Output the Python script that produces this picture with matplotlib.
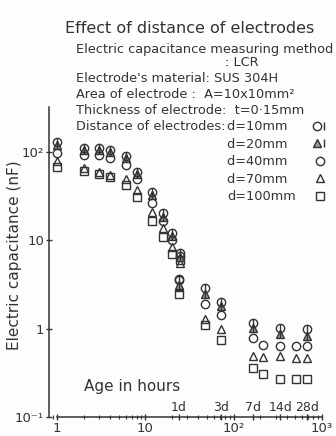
import numpy as np
import matplotlib
matplotlib.use("Agg")
import matplotlib.pyplot as plt
from matplotlib.lines import Line2D
from matplotlib.legend_handler import HandlerTuple
from matplotlib.ticker import NullLocator, LogLocator

nan = np.nan

# Age of the specimen in hours (two readings near 1 day)
hours = [1, 2, 3, 4, 6, 8, 12, 16, 20, 25, 24, 48, 72, 168, 216, 336, 504, 672]

# Electric capacitance (nF) for each electrode distance
cap_d10 = [129, 110, 110, 106, 90, 60, 35, 20.5, 12.1, 7.2, 3.7, 2.9, 2.0, 1.17, nan, 1.02, nan, 0.99]
cap_d20 = [120, 106, 105, 100, 86, 57, 33, 18.5, 11.2, 6.5, 3.1, 2.5, 1.82, 1.02, nan, 0.88, nan, 0.83]
cap_d40 = [98, 93, 93, 85, 72, 49, 26.5, 16.4, 10.1, 6.6, 3.6, 1.9, 1.43, 0.79, 0.65, 0.64, 0.64, 0.64]
cap_d70 = [79, 66, 59, 55, 50, 37, 21.2, 13.8, 8.4, 5.6, 3.0, 1.3, 1.0, 0.49, 0.48, 0.49, 0.46, 0.46]
cap_d100 = [68, 61, 56, 52, 42, 31, 16.6, 11.0, 7.0, 6.0, 2.5, 1.1, 0.74, 0.36, 0.31, 0.27, 0.27, 0.27]

day_hours = [24, 72, 168, 336, 672]
day_labels = ["1d", "3d", "7d", "14d", "28d"]

x_ticks = [1, 10, 100, 1000]
x_tick_labels = ["1", "10", "10²", "10³"]
y_ticks = [0.1, 1, 10, 100]
y_tick_labels = ["10⁻¹", "1", "10", "10²"]

legend_labels = ["d=10mm", "d=20mm", "d=40mm", "d=70mm", "d=100mm"]

INK = "#333333"
W, H = 336, 436


def fx(px):
    return px / W


def fy(py):
    return 1 - py / H


fig = plt.figure(figsize=(W / 100, H / 100), dpi=100, facecolor="#fdfdfd")

# axes frame in pixels: left 49, right 330, top 107, bottom 417; one decade = 88.3 px
dec = 88.3
ax = fig.add_axes([fx(49), fy(417), fx(330) - fx(49), fy(107) - fy(417)])
ax.set_facecolor("none")
ax.set_xscale("log")
ax.set_yscale("log")
ax.set_xlim(10 ** (-8 / dec), 10 ** (273 / dec))
ax.set_ylim(0.1, 10 ** (310 / dec - 1))

ms = 6
mew = 1.0
common = dict(linestyle="none", color=INK, mec=INK, mew=mew, ms=ms, clip_on=False)

ax.plot(hours, cap_d100, marker="s", mfc="none", **common)
ax.plot(hours, cap_d70, marker="^", mfc="none", **common)
ax.plot(hours, cap_d40, marker="o", mfc="none", **common)
ax.plot(hours, cap_d20, marker="^", mfc="#9a9a9a", **common)
ax.plot(hours, cap_d20, marker="|", **common)
ax.plot(hours, cap_d10, marker="o", mfc="none", **common)
ax.plot(hours, cap_d10, marker="|", **common)

for side in ("top", "right"):
    ax.spines[side].set_visible(False)
for side in ("left", "bottom"):
    ax.spines[side].set_color(INK)
    ax.spines[side].set_linewidth(1.1)
ax.spines["left"].set_bounds(0.1, ax.get_ylim()[1])
ax.spines["bottom"].set_bounds(1, 1000)

ax.set_xticks(x_ticks, x_tick_labels)
ax.set_yticks(y_ticks, y_tick_labels)
ax.xaxis.set_minor_locator(LogLocator(base=10, subs=np.arange(2, 10), numticks=10))
ax.yaxis.set_minor_locator(NullLocator())
ax.tick_params(which="major", direction="inout", length=5, width=1, color=INK,
               labelcolor=INK, labelsize=9.5)
ax.tick_params(which="minor", direction="inout", length=2.5, width=0.8, color=INK)
ax.tick_params(axis="x", which="major", pad=1)
ax.tick_params(axis="y", which="major", pad=1)

# day marks just above the time axis
sec = ax.secondary_xaxis(0)
sec.set_alignment("top")
sec.set_xticks(day_hours, day_labels)
sec.xaxis.set_minor_locator(NullLocator())
sec.tick_params(axis="x", direction="inout", length=4, width=1, color=INK,
                labelcolor=INK, labelsize=9, pad=0)
for s in sec.spines.values():
    s.set_visible(False)

ax.set_ylabel("Electric capacitance (nF)", fontsize=11, color=INK)
ax.yaxis.set_label_coords((22 - 49) / 281, (417 - 255) / 310)
ax.text((132 - 49) / 281, (417 - 386) / 310, "Age in hours", transform=ax.transAxes,
        ha="center", va="center", fontsize=11, color=INK)

# header block
fig.text(fx(190), fy(28), "Effect of distance of electrodes", ha="center", va="center",
         fontsize=11.5, color=INK)
info = [
    (76, 49, "Electric capacitance measuring method"),
    (225, 63, ": LCR"),
    (76, 79, "Electrode's material: SUS 304H"),
    (76, 95, "Area of electrode :  A=10x10mm²"),
    (76, 110, "Thickness of electrode:  t=0·15mm"),
    (76, 127, "Distance of electrodes:"),
]
for px, py, s in info:
    fig.text(fx(px), fy(py), s, ha="left", va="center", fontsize=9.3, color=INK)


def mk(marker, mfc="none"):
    return Line2D([], [], linestyle="none", marker=marker, mfc=mfc, mec=INK,
                  color=INK, mew=mew, ms=ms)


handles = [
    (mk("o"), mk("|")),
    (mk("^", "#9a9a9a"), mk("|")),
    mk("o"),
    mk("^"),
    mk("s"),
]
# pad shorter labels with figure spaces so the right-aligned column reads left-aligned
width = max(len(s) for s in legend_labels)
padded = [s + "\u2007" * (width - len(s)) for s in legend_labels]
leg = fig.legend(handles, padded, loc="upper left", bbox_to_anchor=(fx(227), fy(120.5)),
                 frameon=False, markerfirst=False, fontsize=9.3, labelspacing=0.34,
                 handlelength=1.0, handletextpad=1.4, borderpad=0, borderaxespad=0,
                 handler_map={tuple: HandlerTuple(ndivide=None)})
for t in leg.get_texts():
    t.set_color(INK)

fig.savefig("out.png", dpi=100, facecolor=fig.get_facecolor())
